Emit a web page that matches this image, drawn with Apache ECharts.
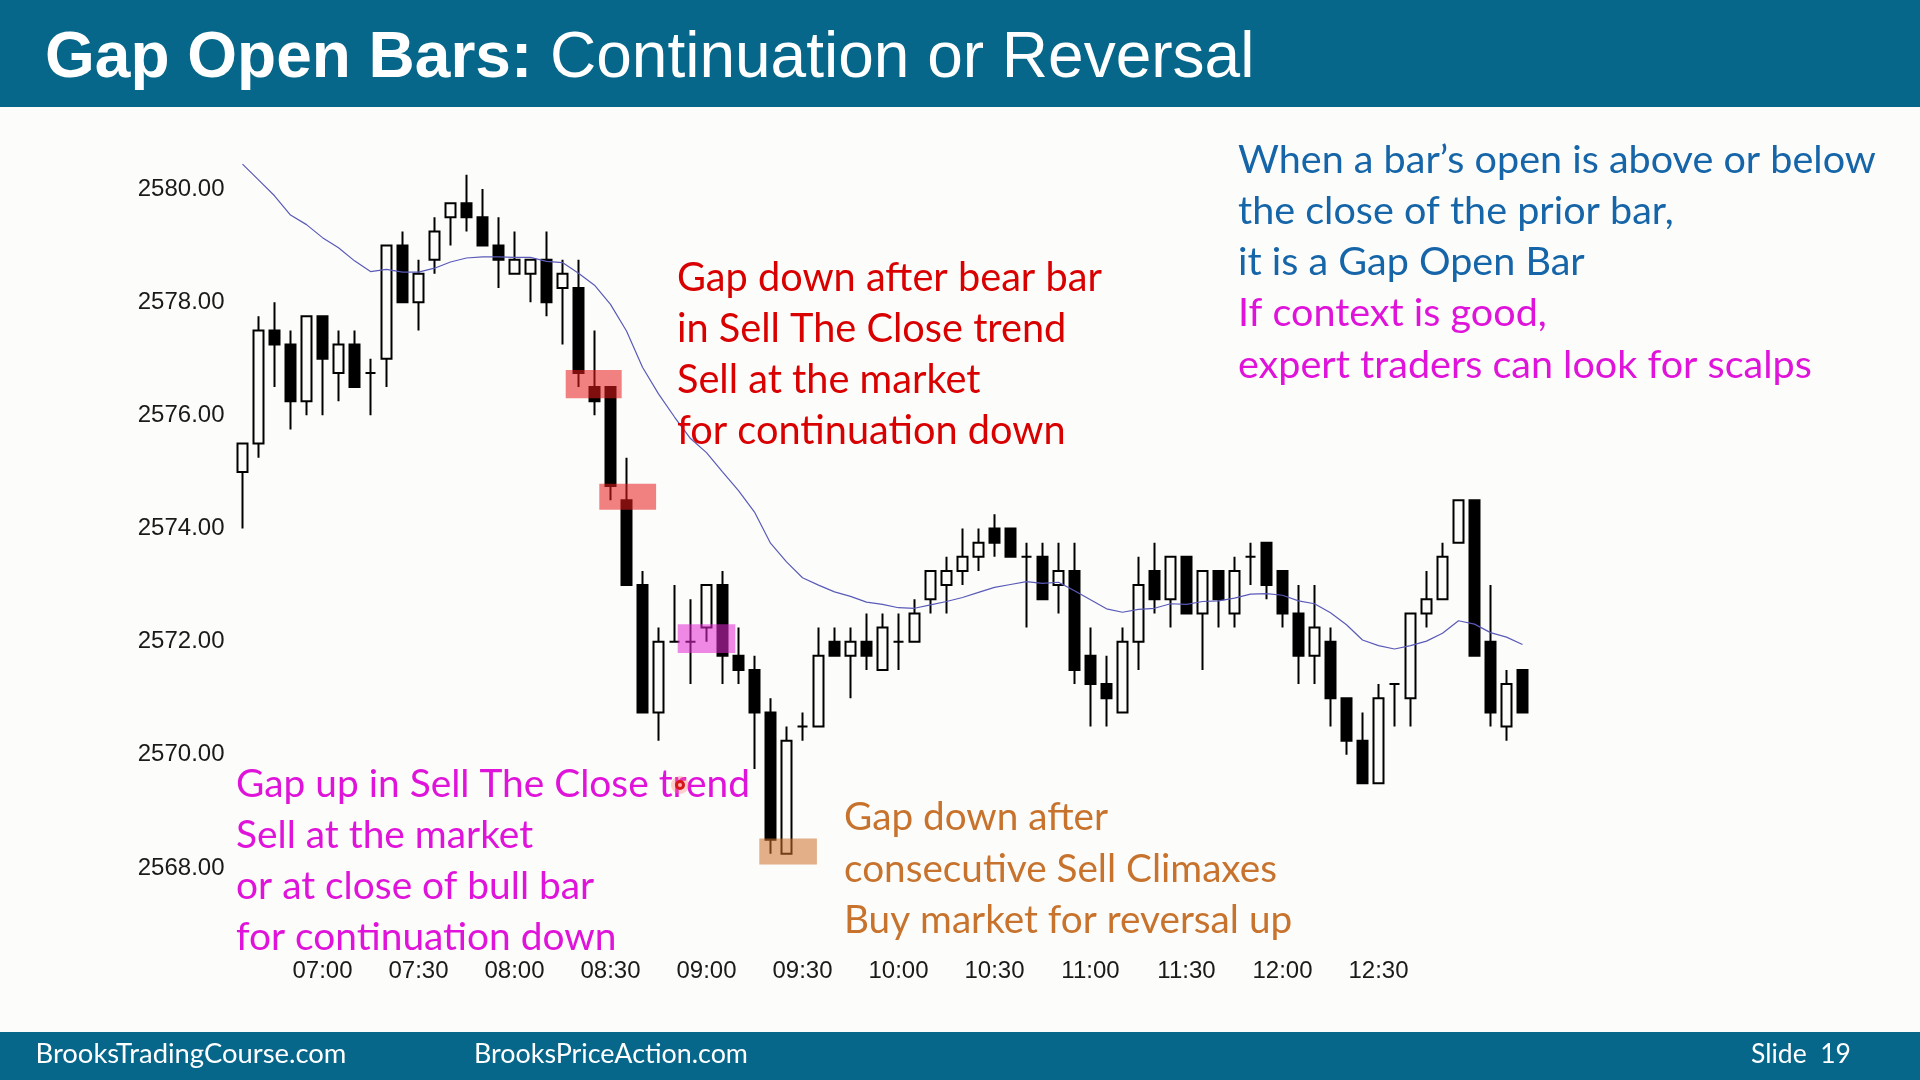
<!DOCTYPE html>
<html>
<head>
<meta charset="utf-8">
<script src="https://cdn.jsdelivr.net/npm/echarts@6/dist/echarts.min.js"></script>
<style>
html,body{margin:0;padding:0;background:#fcfdfb;}
#c{width:1920px;height:1080px;}
</style>
</head>
<body>
<div id="c"></div>
<script>
// ---------------- DATA ----------------
const times = ['06:35','06:40','06:45','06:50','06:55','07:00','07:05','07:10','07:15','07:20',
 '07:25','07:30','07:35','07:40','07:45','07:50','07:55','08:00','08:05','08:10',
 '08:15','08:20','08:25','08:30','08:35','08:40','08:45','08:50','08:55','09:00',
 '09:05','09:10','09:15','09:20','09:25','09:30','09:35','09:40','09:45','09:50',
 '09:55','10:00','10:05','10:10','10:15','10:20','10:25','10:30','10:35','10:40',
 '10:45','10:50','10:55','11:00','11:05','11:10','11:15','11:20','11:25','11:30',
 '11:35','11:40','11:45','11:50','11:55','12:00','12:05','12:10','12:15','12:20',
 '12:25','12:30','12:35','12:40','12:45','12:50','12:55','13:00','13:05','13:10',
 '13:15'];

const opens = [2575.0, 2575.5, 2577.5, 2577.25, 2576.25, 2577.75, 2576.75, 2577.25, 2576.75, 2577.0,
 2579.0, 2578.0, 2578.75, 2579.5, 2579.75, 2579.5, 2579.0, 2578.5, 2578.5, 2578.75,
 2578.25, 2578.25, 2576.5, 2576.5, 2574.5, 2573.0, 2570.75, 2572.0, 2572.0, 2572.25,
 2573.0, 2571.75, 2571.5, 2570.75, 2568.25, 2570.5, 2570.5, 2572.0, 2571.75, 2572.0,
 2571.5, 2572.0, 2572.0, 2572.75, 2573.0, 2573.25, 2573.5, 2574.0, 2574.0, 2573.5,
 2573.5, 2573.0, 2573.25, 2571.75, 2571.25, 2570.75, 2572.0, 2573.25, 2572.75, 2573.5,
 2572.5, 2573.25, 2572.5, 2573.5, 2573.75, 2573.25, 2572.5, 2571.75, 2572.0, 2571.0,
 2570.25, 2569.5, 2571.25, 2571.0, 2572.5, 2572.75, 2573.75, 2574.5, 2572.0, 2570.5,
 2571.5];

const highs = [2575.5, 2577.75, 2578.0, 2577.5, 2577.75, 2577.75, 2577.5, 2577.5, 2577.0, 2579.0,
 2579.25, 2578.75, 2579.5, 2579.75, 2580.25, 2580.0, 2579.5, 2579.25, 2578.75, 2579.25,
 2578.75, 2578.75, 2577.5, 2576.5, 2575.25, 2573.25, 2572.25, 2573.0, 2572.75, 2573.0,
 2573.25, 2572.25, 2571.75, 2571.0, 2570.5, 2570.75, 2572.25, 2572.25, 2572.25, 2572.5,
 2572.5, 2572.5, 2572.75, 2573.25, 2573.5, 2574.0, 2574.0, 2574.25, 2574.0, 2573.75,
 2573.75, 2573.75, 2573.75, 2572.25, 2571.75, 2572.25, 2573.5, 2573.75, 2573.5, 2573.5,
 2573.25, 2573.25, 2573.5, 2573.75, 2573.75, 2573.25, 2573.0, 2573.0, 2572.25, 2571.0,
 2570.75, 2571.25, 2571.25, 2572.5, 2573.25, 2573.75, 2574.5, 2574.5, 2573.0, 2571.5,
 2571.5];

const lows = [2574.0, 2575.25, 2576.5, 2575.75, 2576.0, 2576.0, 2576.25, 2576.5, 2576.0, 2576.5,
 2578.0, 2577.5, 2578.5, 2579.0, 2579.25, 2579.0, 2578.25, 2578.5, 2578.0, 2577.75,
 2577.25, 2576.5, 2576.0, 2574.5, 2573.0, 2570.75, 2570.25, 2572.0, 2571.25, 2572.0,
 2571.25, 2571.25, 2569.75, 2568.25, 2568.25, 2570.25, 2570.5, 2571.75, 2571.0, 2571.5,
 2571.5, 2571.5, 2572.0, 2572.5, 2572.5, 2573.0, 2573.25, 2573.5, 2573.5, 2572.25,
 2572.75, 2572.5, 2571.25, 2570.5, 2570.5, 2570.75, 2571.5, 2572.5, 2572.25, 2572.5,
 2571.5, 2572.25, 2572.25, 2573.0, 2572.75, 2572.25, 2571.25, 2571.25, 2570.5, 2570.0,
 2569.5, 2569.5, 2570.5, 2570.5, 2572.25, 2572.75, 2573.75, 2571.75, 2570.5, 2570.25,
 2570.75];

const closes = [2575.5, 2577.5, 2577.25, 2576.25, 2577.75, 2577.0, 2577.25, 2576.5, 2576.75, 2579.0,
 2578.0, 2578.5, 2579.25, 2579.75, 2579.5, 2579.0, 2578.75, 2578.75, 2578.75, 2578.0,
 2578.5, 2576.75, 2576.25, 2574.75, 2573.0, 2570.75, 2572.0, 2572.0, 2572.0, 2573.0,
 2571.75, 2571.5, 2570.75, 2568.5, 2570.25, 2570.5, 2571.75, 2571.75, 2572.0, 2571.75,
 2572.25, 2572.0, 2572.5, 2573.25, 2573.25, 2573.5, 2573.75, 2573.75, 2573.5, 2573.5,
 2572.75, 2573.25, 2571.5, 2571.25, 2571.0, 2572.0, 2573.0, 2572.75, 2573.5, 2572.5,
 2573.25, 2572.75, 2573.25, 2573.5, 2573.0, 2572.5, 2571.75, 2572.25, 2571.0, 2570.25,
 2569.5, 2571.0, 2571.25, 2572.5, 2572.75, 2573.5, 2574.5, 2571.75, 2570.75, 2571.25,
 2570.75];

// 20-bar moving average line
const ema20 = [2580.44, 2580.16, 2579.88, 2579.54, 2579.37, 2579.14, 2578.96, 2578.73, 2578.54, 2578.58,
 2578.53, 2578.53, 2578.60, 2578.71, 2578.78, 2578.80, 2578.80, 2578.79, 2578.79, 2578.72,
 2578.70, 2578.51, 2578.30, 2577.96, 2577.49, 2576.85, 2576.38, 2575.97, 2575.59, 2575.34,
 2575.00, 2574.67, 2574.29, 2573.74, 2573.41, 2573.13, 2573.00, 2572.88, 2572.80, 2572.70,
 2572.66, 2572.60, 2572.59, 2572.65, 2572.71, 2572.78, 2572.87, 2572.96, 2573.01, 2573.06,
 2573.03, 2573.05, 2572.90, 2572.74, 2572.58, 2572.52, 2572.57, 2572.59, 2572.67, 2572.66,
 2572.71, 2572.72, 2572.77, 2572.84, 2572.85, 2572.82, 2572.72, 2572.67, 2572.51, 2572.30,
 2572.03, 2571.93, 2571.87, 2571.93, 2572.01, 2572.15, 2572.37, 2572.31, 2572.16, 2572.08,
 2571.95];

const xTickLabels = ['07:00','07:30','08:00','08:30','09:00','09:30','10:00','10:30','11:00','11:30','12:00','12:30'];
const yTickLabels = ['2568.00','2570.00','2572.00','2574.00','2576.00','2578.00','2580.00'];

const titleBold = 'Gap Open Bars:';
const titleRest = ' Continuation or Reversal';
const redNote = ['Gap down after bear bar','in Sell The Close trend','Sell at the market','for continuation down'];
const blueNote = ['When a bar\u2019s open is above or below','the close of the prior bar,','it is a Gap Open Bar'];
const magentaNoteTop = ['If context is good,','expert traders can look for scalps'];
const magentaNoteBottom = ['Gap up in Sell The Close trend','Sell at the market','or at close of bull bar','for continuation down'];
const orangeNote = ['Gap down after','consecutive Sell Climaxes','Buy market for reversal up'];
const footerTexts = ['BrooksTradingCourse.com','BrooksPriceAction.com','Slide  19'];

// highlight boxes (bar-index span, price span)
const highlightBoxes = [
  {x0: 20.2, x1: 23.7, lo: 2576.30, hi: 2576.80, color: 'rgba(232,28,28,0.55)'},
  {x0: 22.3, x1: 25.85, lo: 2574.33, hi: 2574.79, color: 'rgba(232,28,28,0.55)'},
  {x0: 27.2, x1: 30.8, lo: 2571.80, hi: 2572.31, color: 'rgba(228,40,210,0.55)'},
  {x0: 32.3, x1: 35.9, lo: 2568.06, hi: 2568.52, color: 'rgba(204,112,42,0.55)'}
];

// ---------------- LAYOUT / STYLE ----------------
const BG = '#fcfdfb';
const TEAL = '#07678a';
const NOTE_FONT = 'Lato';
const LINE = 51.2;

const mctx = document.createElement('canvas').getContext('2d');
function fitSize(text, family, weight, target) {
  mctx.font = weight + ' 100px "' + family + '"';
  return 100 * target / mctx.measureText(text).width;
}

const redSize = fitSize(redNote[0], NOTE_FONT, 'normal', 425);
const blueSize = fitSize(blueNote[0], NOTE_FONT, 'normal', 638);
const magBotSize = fitSize(magentaNoteBottom[0], NOTE_FONT, 'normal', 514);
const orangeSize = fitSize(orangeNote[1], NOTE_FONT, 'normal', 433);
const foot1 = fitSize(footerTexts[0], NOTE_FONT, 'normal', 311);
const foot2 = fitSize(footerTexts[1], NOTE_FONT, 'normal', 274);
const foot3 = fitSize(footerTexts[2], NOTE_FONT, 'normal', 100);

function textEl(text, x, y, color, size, family, weight) {
  return {
    type: 'text', x: x, y: y, silent: true, z: 100,
    style: {
      text: text, fill: color,
      font: (weight || 'normal') + ' ' + size.toFixed(2) + 'px "' + family + '"',
      align: 'left', verticalAlign: 'middle',
      textAlign: 'left', textVerticalAlign: 'middle'
    }
  };
}

const graphics = [
  {type: 'rect', shape: {x: 0, y: 0, width: 1920, height: 107}, style: {fill: TEAL}, z: 90, silent: true},
  {type: 'rect', shape: {x: 0, y: 1032, width: 1920, height: 48}, style: {fill: TEAL}, z: 90, silent: true},
  {
    type: 'text', x: 45, y: 59, z: 100, silent: true,
    style: {
      text: '{b|' + titleBold + '}{r|' + titleRest + '}',
      fill: '#ffffff', align: 'left', verticalAlign: 'middle',
      textAlign: 'left', textVerticalAlign: 'middle',
      rich: {
        b: {fontFamily: 'Liberation Sans', fontWeight: 'bold', fontSize: 64, fill: '#ffffff'},
        r: {fontFamily: 'Liberation Sans', fontWeight: 'normal', fontSize: 64, fill: '#ffffff'}
      }
    }
  }
];

redNote.forEach((t, i) => graphics.push(textEl(t, 677, 278 + i * LINE, '#d90000', redSize, NOTE_FONT)));
blueNote.forEach((t, i) => graphics.push(textEl(t, 1238, 160 + i * LINE, '#1565a8', blueSize, NOTE_FONT)));
magentaNoteTop.forEach((t, i) => graphics.push(textEl(t, 1238, 160 + (i + 3) * LINE, '#df13d9', blueSize, NOTE_FONT)));
magentaNoteBottom.forEach((t, i) => graphics.push(textEl(t, 236, 784 + i * LINE, '#df13d9', magBotSize, NOTE_FONT)));
orangeNote.forEach((t, i) => graphics.push(textEl(t, 844, 818 + i * LINE, '#c8732d', orangeSize, NOTE_FONT)));

graphics.push(textEl(footerTexts[0], 35.5, 1054, '#ffffff', foot1, NOTE_FONT));
graphics.push(textEl(footerTexts[1], 474, 1054, '#ffffff', foot2, NOTE_FONT));
graphics.push(textEl(footerTexts[2], 1751, 1054, '#ffffff', foot3, NOTE_FONT));

// laser pointer dot
graphics.push({type: 'circle', shape: {cx: 680, cy: 785, r: 9}, style: {fill: 'rgba(255,120,120,0.35)'}, z: 101, silent: true});
graphics.push({type: 'circle', shape: {cx: 680, cy: 785, r: 5}, style: {fill: '#d81818'}, z: 102, silent: true});
graphics.push({type: 'circle', shape: {cx: 680, cy: 785, r: 2}, style: {fill: '#ffb0b0'}, z: 103, silent: true});

const ohlc = opens.map((o, i) => [o, closes[i], lows[i], highs[i]]);

const chart = echarts.init(document.getElementById('c'), null, {renderer: 'canvas', width: 1920, height: 1080});

chart.setOption({
  animation: false,
  backgroundColor: BG,
  grid: {left: 234.5, top: 132.4, width: 1296, height: 792.2, containLabel: false},
  xAxis: {
    type: 'category', data: times, boundaryGap: true,
    axisLine: {show: false}, axisTick: {show: false}, splitLine: {show: false},
    axisLabel: {
      interval: (idx, val) => xTickLabels.indexOf(val) >= 0,
      formatter: v => (xTickLabels.indexOf(v) >= 0 ? v : ''),
      fontFamily: 'Liberation Sans', fontSize: 24, color: '#1a1a1a', margin: 35
    }
  },
  yAxis: {
    type: 'value', min: 2567, max: 2581, interval: 1, scale: true,
    axisLine: {show: false}, axisTick: {show: false}, splitLine: {show: false},
    axisLabel: {
      formatter: v => { const s = v.toFixed(2); return yTickLabels.indexOf(s) >= 0 ? s : ''; },
      fontFamily: 'Liberation Sans', fontSize: 24, color: '#1a1a1a', margin: 10,
      padding: [5, 0, 0, 0]
    }
  },
  series: [
    {
      type: 'candlestick', data: ohlc, barWidth: 11, z: 2,
      itemStyle: {
        color: BG, color0: '#000000',
        borderColor: '#000000', borderColor0: '#000000', borderColorDoji: '#000000',
        borderWidth: 2
      }
    },
    {
      type: 'line', data: ema20, symbol: 'none', z: 3, silent: true,
      lineStyle: {color: '#5a5ab8', width: 1.2}
    },
    {
      type: 'custom', z: 5, silent: true, clip: false,
      data: highlightBoxes.map((b, i) => [i, b.lo]),
      renderItem: function (params, api) {
        const b = highlightBoxes[params.dataIndex];
        const band = api.size([1, 0])[0];
        const top = api.coord([0, b.hi]);
        const bot = api.coord([0, b.lo]);
        const xa = top[0] + b.x0 * band;
        const xb = top[0] + b.x1 * band;
        return {
          type: 'rect',
          shape: {x: xa, y: top[1], width: xb - xa, height: bot[1] - top[1]},
          style: {fill: b.color}
        };
      }
    }
  ],
  graphic: graphics
});
</script>
</body>
</html>
